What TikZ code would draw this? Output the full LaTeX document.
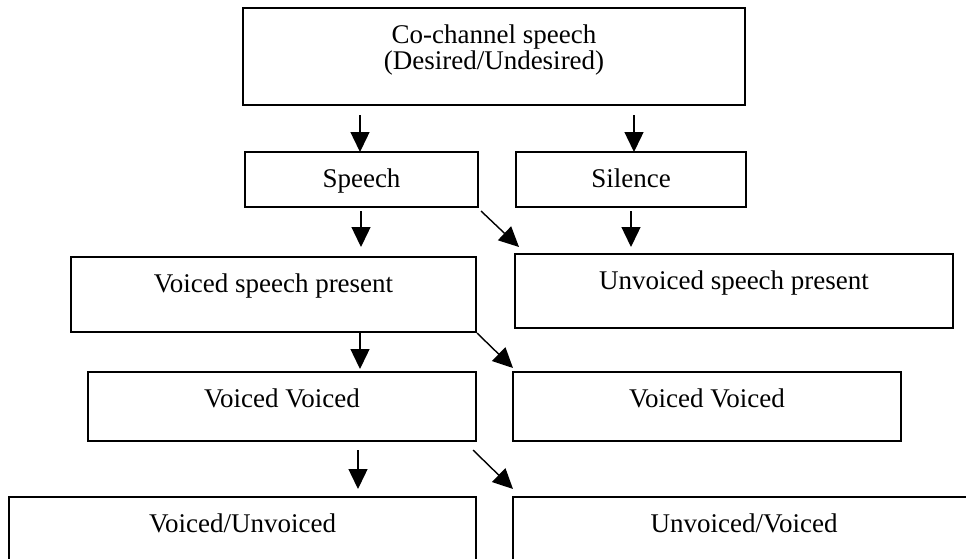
\documentclass[tikz,border=0pt]{standalone}
\usepackage{fontspec}
\setmainfont{Liberation Serif}
\usetikzlibrary{arrows.meta}
\newcommand{\boxtext}[3]{\parbox[t][#2pt][t]{#1pt}{\centering\rule{0pt}{35pt}#3}}
\begin{document}
\begin{tikzpicture}[x=1pt,y=-1pt,
  box/.style={draw, line width=1.5pt, inner sep=0pt, outer sep=0pt, anchor=north west,
    font=\fontsize{27}{26}\selectfont},
  arr/.style={line width=1.4pt, -{Triangle[length=20pt,width=19pt]}}]
\useasboundingbox (0,0) rectangle (966,558);
\clip (0,0) rectangle (966,558);
\fill[white] (0,0) rectangle (966,558);
% boxes
\node[box] (top) at (243,8) {\boxtext{502}{97}{Co-channel speech\\(Desired/Undesired)}};
\node[box] (speech) at (245,152) {\boxtext{233}{55}{Speech}};
\node[box] (silence) at (516,152) {\boxtext{230}{55}{Silence}};
\node[box] (vsp) at (71,257) {\boxtext{405}{75}{Voiced speech present}};
\node[box] (usp) at (515,254) {\boxtext{438}{74}{Unvoiced speech present}};
\node[box] (vvl) at (88,372) {\boxtext{388}{69}{Voiced Voiced}};
\node[box] (vvr) at (513,372) {\boxtext{388}{69}{Voiced Voiced}};
\node[box] (vu) at (9,497) {\boxtext{467}{85}{Voiced/Unvoiced}};
\node[box] (uv) at (513,497) {\boxtext{462}{85}{Unvoiced/Voiced}};
% arrow end points
\coordinate (a1s) at (360,115); \coordinate (a1e) at (360,152);
\coordinate (a2s) at (634,115); \coordinate (a2e) at (634,152);
\coordinate (a3s) at (361,211); \coordinate (a3e) at (361,247);
\coordinate (a4s) at (481,211); \coordinate (a4e) at (519,247);
\coordinate (a5s) at (631,211); \coordinate (a5e) at (631,247);
\coordinate (a6s) at (360,333); \coordinate (a6e) at (360,369);
\coordinate (a7s) at (477,333); \coordinate (a7e) at (513,368);
\coordinate (a8s) at (358,450); \coordinate (a8e) at (358,489);
\coordinate (a9s) at (473,450); \coordinate (a9e) at (513,489);
\draw[arr] (a1s) -- (a1e);
\draw[arr] (a2s) -- (a2e);
\draw[arr] (a3s) -- (a3e);
\draw[arr] (a4s) -- (a4e);
\draw[arr] (a5s) -- (a5e);
\draw[arr] (a6s) -- (a6e);
\draw[arr] (a7s) -- (a7e);
\draw[arr] (a8s) -- (a8e);
\draw[arr] (a9s) -- (a9e);
\end{tikzpicture}
\end{document}
